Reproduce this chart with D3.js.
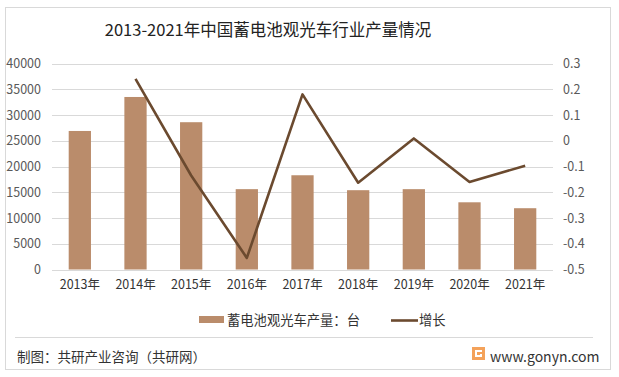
<!DOCTYPE html>
<html lang="zh">
<head>
<meta charset="UTF-8">
<title>蓄电池观光车产量</title>
<script src="https://d3js.org/d3.v7.min.js"></script>
<style>
  body { margin: 0; background: #fff; }
  text { font-family: "Noto Sans CJK SC", "Noto Sans", sans-serif; }
</style>
</head>
<body>
<svg></svg>
<script>
  const years = ["2013年", "2014年", "2015年", "2016年", "2017年", "2018年", "2019年", "2020年", "2021年"];
  const output = [26900, 33500, 28600, 15600, 18300, 15400, 15600, 13050, 11900];
  const growth = [null, 0.24, -0.135, -0.455, 0.18, -0.163, 0.009, -0.16, -0.097];
  const leftTicks = [0, 5000, 10000, 15000, 20000, 25000, 30000, 35000, 40000];
  const rightTicks = [-0.5, -0.4, -0.3, -0.2, -0.1, 0, 0.1, 0.2, 0.3];

  const w = 619, h = 377;
  const barColor = "#ba8c6b";
  const lineColor = "#6b4a2f";

  const svg = d3.select("svg").attr("width", w).attr("height", h);

  // outer frame
  svg.append("rect")
    .attr("x", 5.5).attr("y", 7.5)
    .attr("width", 605).attr("height", 362)
    .attr("fill", "#fff")
    .attr("stroke", "#d9d9d9");

  svg.append("text")
    .attr("x", 268).attr("y", 36)
    .attr("text-anchor", "middle")
    .attr("font-size", 16.5)
    .attr("fill", "#222")
    .text("2013-2021年中国蓄电池观光车行业产量情况");

  const x = d3.scaleBand().domain(years).range([52, 553])
    .paddingInner(0.6).paddingOuter(0.3);
  const y = d3.scaleLinear().domain([0, 40000]).range([269.5, 63.5]);
  const y2 = d3.scaleLinear().domain([-0.5, 0.3]).range([269.5, 63.5]);

  // grid
  svg.append("g").selectAll("line")
    .data(leftTicks).join("line")
    .attr("x1", 52).attr("x2", 553)
    .attr("y1", d => Math.round(y(d)) + 0.5).attr("y2", d => Math.round(y(d)) + 0.5)
    .attr("stroke", "#d9d9d9").attr("stroke-width", 1);

  const leftAxis = svg.append("g")
    .attr("transform", "translate(41,0)")
    .call(d3.axisLeft(y).tickValues(leftTicks).tickSize(0).tickPadding(0).tickFormat(d => String(d)));
  const rightAxis = svg.append("g")
    .attr("transform", "translate(563,0)")
    .call(d3.axisRight(y2).tickValues(rightTicks).tickSize(0).tickPadding(0).tickFormat(d => String(d)));
  const bottomAxis = svg.append("g")
    .attr("transform", "translate(0,276)")
    .call(d3.axisBottom(x).tickSize(0).tickPadding(0));
  [leftAxis, rightAxis, bottomAxis].forEach(g => {
    g.select(".domain").remove();
    g.selectAll("text")
      .attr("font-family", "\"Noto Sans CJK SC\", sans-serif")
      .attr("font-size", 12.5)
      .attr("fill", "#595959");
  });
  bottomAxis.selectAll("text").attr("dy", "1em").attr("fill", "#333");

  // bars
  svg.append("g").selectAll("rect")
    .data(output).join("rect")
    .attr("x", (d, i) => x(years[i]))
    .attr("y", d => y(d))
    .attr("width", x.bandwidth())
    .attr("height", d => y(0) - y(d))
    .attr("fill", barColor);

  // growth line
  const line = d3.line()
    .defined(d => d != null)
    .x((d, i) => x(years[i]) + x.bandwidth() / 2)
    .y(d => y2(d));
  svg.append("path")
    .datum(growth)
    .attr("d", line)
    .attr("fill", "none")
    .attr("stroke", lineColor)
    .attr("stroke-width", 2.6)
    .attr("stroke-linejoin", "round");

  // legend
  const lg = svg.append("g").attr("font-size", 13.3).attr("fill", "#333");
  lg.append("rect").attr("x", 199).attr("y", 316).attr("width", 25).attr("height", 7).attr("fill", barColor);
  lg.append("text").attr("x", 227).attr("y", 325).text("蓄电池观光车产量：台");
  lg.append("line").attr("x1", 391).attr("x2", 418).attr("y1", 320.5).attr("y2", 320.5)
    .attr("stroke", lineColor).attr("stroke-width", 2.6);
  lg.append("text").attr("x", 419).attr("y", 325).text("增长");

  // footer
  svg.append("line").attr("x1", 15).attr("x2", 593).attr("y1", 337.5).attr("y2", 337.5)
    .attr("stroke", "#d9d9d9");
  svg.append("text").attr("x", 17).attr("y", 362)
    .attr("font-size", 13.5).attr("fill", "#333")
    .text("制图：共研产业咨询（共研网）");
  const logo = svg.append("g").attr("transform", "translate(472,347)");
  logo.append("rect").attr("width", 13).attr("height", 13).attr("fill", "#f4a25a");
  logo.append("path").attr("d", "M3,3H10V5H5V8H8V7H10V10H3Z").attr("fill", "#fff");
  svg.append("text").attr("x", 490).attr("y", 362)
    .attr("font-size", 14).attr("fill", "#333")
    .text("www.gonyn.com");
</script>
</body>
</html>
